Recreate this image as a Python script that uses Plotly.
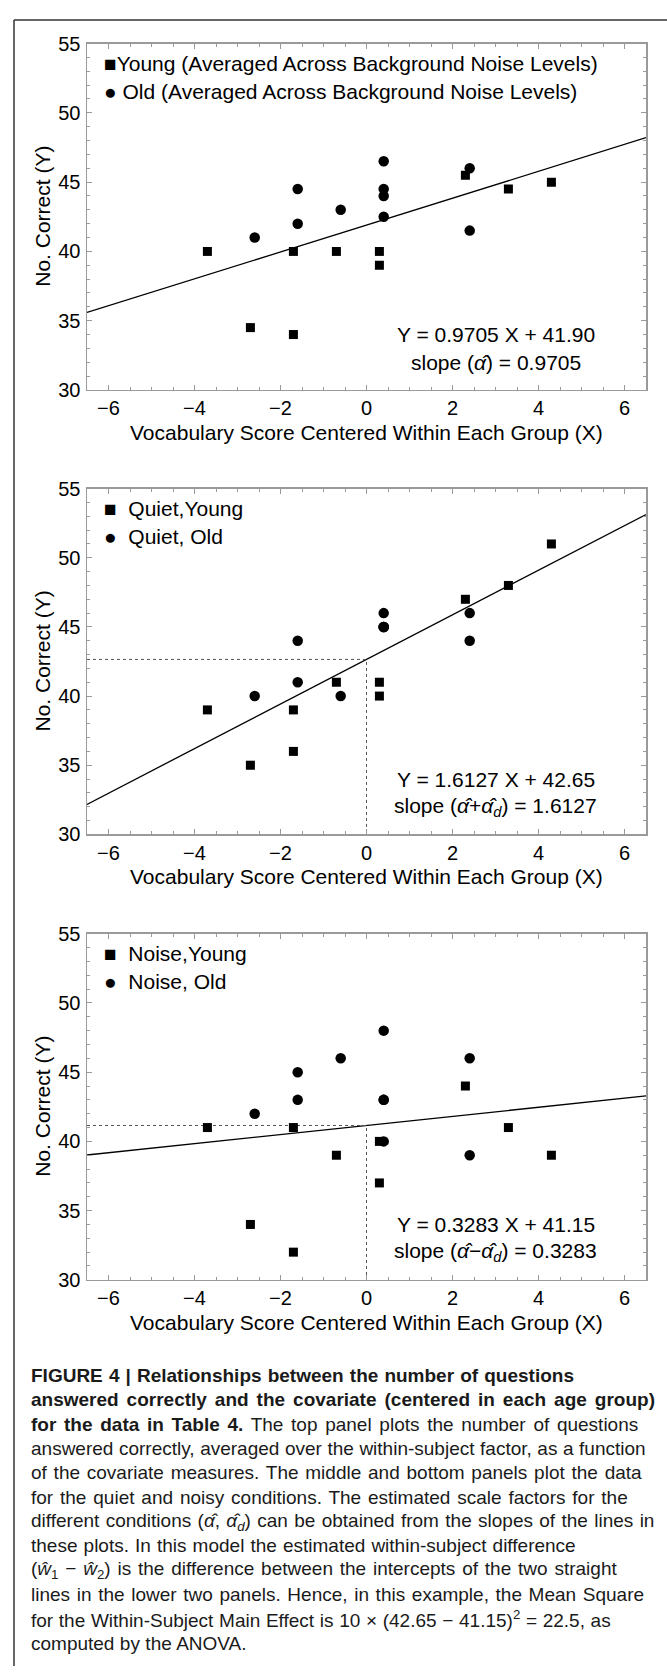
import re
import plotly.graph_objects as go

W, H = 667, 1677

# ---------------- data ----------------
x_young = [-3.7, -2.7, -1.7, -1.7, -0.7, 0.3, 0.3, 2.3, 3.3, 4.3]
x_old = [-2.6, -1.6, -1.6, -0.6, 0.4, 0.4, 0.4, 0.4, 2.4, 2.4]

avg_young = [40, 34.5, 40, 34, 40, 39, 40, 45.5, 44.5, 45]
avg_old = [41, 44.5, 42, 43, 46.5, 44.5, 44, 42.5, 46, 41.5]

quiet_young = [39, 35, 39, 36, 41, 41, 40, 47, 48, 51]
quiet_old = [40, 44, 41, 40, 45, 46, 45, 45, 46, 44]

noise_young = [41, 34, 41, 32, 39, 37, 40, 44, 41, 39]
noise_old = [42, 45, 43, 46, 48, 43, 43, 40, 46, 39]

slopes = [0.9705, 1.6127, 0.3283]
intercepts = [41.90, 42.65, 41.15]

legend_young = ["Young (Averaged Across Background Noise Levels)", "Quiet,Young", "Noise,Young"]
legend_old = ["Old (Averaged Across Background Noise Levels)", "Quiet, Old", "Noise, Old"]
eq_text = ["Y = 0.9705 X + 41.90", "Y = 1.6127 X + 42.65", "Y = 0.3283 X + 41.15"]
slope_text = ["slope (<i>α̂</i>) = 0.9705",
              "slope (<i>α̂</i>+<i>α̂</i><sub><i>d</i></sub>) = 1.6127",
              "slope (<i>α̂</i>−<i>α̂</i><sub><i>d</i></sub>) = 0.3283"]

x_range = [-6.5, 6.5]
y_range = [30, 55]
x_ticks = [-6, -4, -2, 0, 2, 4, 6]
y_ticks = [30, 35, 40, 45, 50, 55]

caption_lines = [
    "<b>FIGURE 4 | Relationships between the number of questions</b>",
    "<b>answered correctly and the covariate (centered in each age group)</b>",
    "<b>for the data in Table 4.</b> The top panel plots the number of questions",
    "answered correctly, averaged over the within-subject factor, as a function",
    "of the covariate measures. The middle and bottom panels plot the data",
    "for the quiet and noisy conditions. The estimated scale factors for the",
    "different conditions (<i>α̂</i>, <i>α̂</i><sub><i>d</i></sub>) can be obtained from the slopes of the lines in",
    "these plots. In this model the estimated within-subject difference",
    "(<i>ŵ</i><sub>1</sub> − <i>ŵ</i><sub>2</sub>) is the difference between the intercepts of the two straight",
    "lines in the lower two panels. Hence, in this example, the Mean Square",
    "for the Within-Subject Main Effect is 10 × (42.65 − 41.15)<sup>2</sup> = 22.5, as",
    "computed by the ANOVA.",
]
# right end (px) of each caption line in the reference (justified text)
caption_line_end = [572, 653, 638, 646, 640, 626, 653, 574, 615, 642, 609, 247]

ys_young = [avg_young, quiet_young, noise_young]
ys_old = [avg_old, quiet_old, noise_old]

# ---------------- layout geometry (pixels) ----------------
plot_left, plot_right = 87, 646
panels_px = [(33, 384), (484, 834.3), (935, 1285.7)]
cap_left, cap_top, cap_step, cap_size = 29, 1382.5, 24.7, 19


def xp(px):
    return px / W


def yp(py):
    return 1 - py / H


# Arial / Liberation Sans advance widths (1/1000 em) used to justify the caption
_REG = dict(zip(" ()-.,|=×−", [278, 333, 333, 333, 278, 278, 260, 584, 584, 584]))
_REG.update(dict(zip("abcdefghijklmnopqrstuvwxyz",
                     [556, 556, 500, 556, 556, 278, 556, 556, 222, 222, 500, 222, 833,
                      556, 556, 556, 556, 333, 500, 278, 556, 500, 722, 500, 500, 500])))
_REG.update(dict(zip("ABCDEFGHIJKLMNOPQRSTUVWXYZ",
                     [667, 667, 722, 722, 667, 611, 778, 722, 278, 500, 667, 556, 833,
                      722, 778, 667, 778, 722, 667, 611, 722, 667, 944, 667, 667, 611])))
_REG.update({c: 556 for c in "0123456789"})
_REG.update({"α": 578, "ŵ": 722, "\u0302": 0})
_BOLD = dict(_REG)
_BOLD.update(dict(zip("abcdefghijklmnopqrstuvwxyz",
                      [556, 611, 556, 611, 556, 333, 611, 611, 278, 278, 556, 278, 889,
                       611, 611, 611, 611, 389, 556, 333, 611, 556, 778, 556, 556, 500])))
_BOLD.update(dict(zip("ABCDEFGHIJKLMNOPQRSTUVWXYZ",
                      [722, 722, 722, 722, 667, 611, 778, 722, 278, 556, 722, 611, 833,
                       722, 778, 667, 778, 722, 667, 611, 722, 667, 944, 667, 667, 611])))
_BOLD["|"] = 280


def natural_width(markup, size):
    total, bold, small = 0.0, False, False
    for tok in re.split(r"(<[^>]+>)", markup):
        if tok.startswith("<"):
            t = tok.strip("</>")
            if t == "b":
                bold = not tok.startswith("</")
            elif t in ("sub", "sup"):
                small = not tok.startswith("</")
            continue
        table = _BOLD if bold else _REG
        for ch in tok:
            total += table.get(ch, 556) * (0.7 if small else 1.0)
    return total * size / 1000.0


FONT = "Liberation Sans, Arial, sans-serif"
FRAME = "#9a9a9a"

fig = go.Figure()
layout = dict(
    width=W, height=H,
    margin=dict(l=0, r=0, t=0, b=0),
    paper_bgcolor="white", plot_bgcolor="white",
    showlegend=False, hovermode=False,
    font=dict(family=FONT, color="black"),
)
annotations = []
shapes = []

for i, (top, bot) in enumerate(panels_px):
    sfx = "" if i == 0 else str(i + 1)
    xa, ya = "x" + sfx, "y" + sfx
    layout["xaxis" + sfx] = dict(
        domain=[xp(plot_left), xp(plot_right)], anchor=ya, range=x_range,
        tickvals=x_ticks, ticks="inside", ticklen=5, tickcolor=FRAME, tickwidth=1,
        minor=dict(ticks="inside", dtick=0.5, tick0=0, ticklen=3, tickcolor=FRAME, showgrid=False),
        showline=True, linecolor=FRAME, linewidth=1.5, mirror="ticks",
        showgrid=False, zeroline=False, tickfont=dict(size=20, family=FONT),
    )
    layout["yaxis" + sfx] = dict(
        domain=[yp(bot), yp(top)], anchor=xa, range=y_range,
        tickvals=y_ticks, ticks="inside", ticklen=5, tickcolor=FRAME, tickwidth=1,
        minor=dict(ticks="inside", dtick=1, tick0=0, ticklen=3, tickcolor=FRAME, showgrid=False),
        showline=True, linecolor=FRAME, linewidth=1.5, mirror="ticks",
        showgrid=False, zeroline=False, tickfont=dict(size=20, family=FONT),
        ticklabelstandoff=1,
    )

    m, b = slopes[i], intercepts[i]
    fig.add_trace(go.Scatter(
        x=x_range, y=[m * x_range[0] + b, m * x_range[1] + b], mode="lines",
        line=dict(color="black", width=1.3), xaxis=xa, yaxis=ya, hoverinfo="skip",
    ))
    if i > 0:
        fig.add_trace(go.Scatter(
            x=[x_range[0], 0, 0], y=[b, b, y_range[0]], mode="lines",
            line=dict(color="#555555", width=1, dash="3px,3px"),
            xaxis=xa, yaxis=ya, hoverinfo="skip",
        ))
    fig.add_trace(go.Scatter(
        x=x_young, y=ys_young[i], mode="markers", name=legend_young[i],
        marker=dict(symbol="square", size=9, color="black"), xaxis=xa, yaxis=ya,
    ))
    fig.add_trace(go.Scatter(
        x=x_old, y=ys_old[i], mode="markers", name=legend_old[i],
        marker=dict(symbol="circle", size=10.5, color="black"), xaxis=xa, yaxis=ya,
    ))

    # legend (text)
    annotations.append(dict(
        x=xp(102), y=yp(top + 20), xref="paper", yref="paper", xanchor="left", yanchor="middle",
        text="■" + ("" if i == 0 else "  ") + legend_young[i], showarrow=False,
        font=dict(size=21, family=FONT),
    ))
    annotations.append(dict(
        x=xp(102), y=yp(top + 48.5), xref="paper", yref="paper", xanchor="left", yanchor="middle",
        text="●" + (" " if i == 0 else "  ") + legend_old[i], showarrow=False,
        font=dict(size=21, family=FONT),
    ))

    # equation text
    annotations.append(dict(
        x=3.0, y=34.0, xref=xa, yref=ya, xanchor="center", yanchor="middle",
        text=eq_text[i], showarrow=False, font=dict(size=21, family=FONT),
    ))
    annotations.append(dict(
        x=3.0, y=32.0, xref=xa, yref=ya, xanchor="center", yanchor="middle",
        text=slope_text[i], showarrow=False, font=dict(size=21, family=FONT),
    ))

    # axis titles
    annotations.append(dict(
        x=xp((plot_left + plot_right) / 2), y=yp(bot + 43), xref="paper", yref="paper",
        xanchor="center", yanchor="middle", text="Vocabulary Score Centered Within Each Group (X)",
        showarrow=False, font=dict(size=21, family=FONT),
    ))
    annotations.append(dict(
        x=xp(43), y=yp((top + bot) / 2), xref="paper", yref="paper",
        xanchor="center", yanchor="middle", text="No. Correct (Y)", textangle=-90,
        showarrow=False, font=dict(size=21, family=FONT),
    ))

# caption (each line spread to the reference's justified width)
for k, line in enumerate(caption_lines):
    n_spaces = re.sub(r"<[^>]+>", "", line).count(" ")
    extra = (caption_line_end[k] - cap_left) - natural_width(line, cap_size)
    ws = max(-1.0, extra / n_spaces) if n_spaces else 0.0
    txt = f'<span style="word-spacing:{ws:.2f}px">{line}</span>'
    annotations.append(dict(
        x=xp(cap_left), y=yp(cap_top + k * cap_step), xref="paper", yref="paper",
        xanchor="left", yanchor="middle", text=txt, showarrow=False,
        font=dict(size=cap_size, family=FONT, color="#1a1a1a"),
    ))

# outer frame (top and left edges)
shapes.append(dict(type="line", xref="paper", yref="paper", x0=xp(14), x1=1, y0=yp(9), y1=yp(9),
                   line=dict(color="#333333", width=1.5)))
shapes.append(dict(type="line", xref="paper", yref="paper", x0=xp(14), x1=xp(14), y0=yp(9), y1=0,
                   line=dict(color="#333333", width=1.5)))

layout["annotations"] = annotations
layout["shapes"] = shapes
fig.update_layout(**layout)
fig.write_html(
    "out.html",
    config={"displayModeBar": False, "staticPlot": True},
    post_script="document.body.style.margin='0';document.body.style.overflow='hidden';",
)
